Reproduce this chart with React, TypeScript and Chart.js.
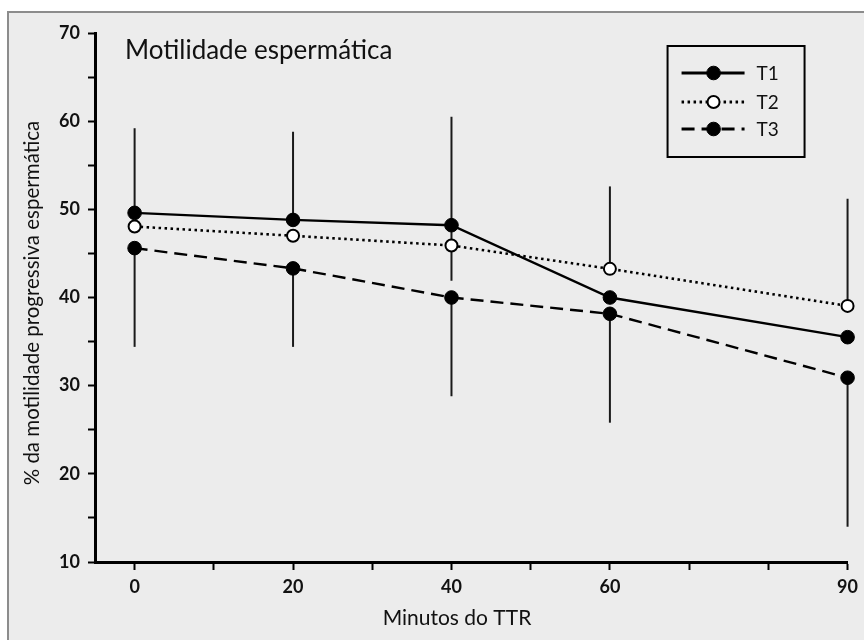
import React, { useEffect, useRef } from 'react';
import { Chart, registerables } from 'chart.js';

Chart.register(...registerables);

// ---- data ----
const minutes = [0, 20, 40, 60, 90];
const t1Values = [49.6, 48.8, 48.2, 40.0, 35.5];
const t2Values = [48.05, 47.0, 45.9, 43.25, 39.05];
const t3Values = [45.6, 43.3, 40.0, 38.15, 30.9];
const t1Upper = [59.2, 58.8, 60.5, null, null];
const t1Lower = [null, null, null, null, null];
const t2Upper = [null, null, 48.2, 52.6, 51.2];
const t2Lower = [null, null, 41.9, null, null];
const t3Upper = [null, null, null, null, null];
const t3Lower = [34.4, 34.4, 28.8, 25.8, 14.0];
const seriesNames = ['T1', 'T2', 'T3'];
const xTicks = [0, 10, 20, 30, 40, 50, 60, 70, 80, 90];
const xTickLabels = [0, 20, 40, 60, 90];
const yTickLabels = [10, 20, 30, 40, 50, 60, 70];
const chartTitle = 'Motilidade espermática';
const xAxisTitle = 'Minutos do TTR';
const yAxisTitle = '% da motilidade progressiva espermática';

const FONT = 'Lato, "Open Sans", sans-serif';
const INK = '#111111';

const toPoints = (vals: number[]) => minutes.map((m, i) => ({ x: m, y: vals[i] }));

const backgroundPlugin = {
  id: 'panelBackground',
  beforeDraw(chart: any) {
    const ctx = chart.ctx;
    const w = chart.width;
    const h = chart.height;
    ctx.save();
    ctx.fillStyle = '#ffffff';
    ctx.fillRect(0, 0, w, h);
    ctx.fillStyle = '#ececec';
    ctx.fillRect(8, 12, w - 8, h - 12);
    ctx.strokeStyle = '#8c8c8c';
    ctx.lineWidth = 2;
    ctx.beginPath();
    ctx.moveTo(8, h);
    ctx.lineTo(8, 12);
    ctx.lineTo(w, 12);
    ctx.stroke();
    ctx.restore();
  },
};

const errorBarPlugin = {
  id: 'errorBars',
  beforeDatasetsDraw(chart: any) {
    const ctx = chart.ctx;
    const xs = chart.scales.x;
    const ys = chart.scales.y;
    ctx.save();
    ctx.strokeStyle = '#1a1a1a';
    ctx.lineWidth = 2;
    ctx.setLineDash([]);
    chart.data.datasets.forEach((ds: any) => {
      const vals: number[] = ds.data.map((p: any) => p.y);
      minutes.forEach((m, i) => {
        const x = xs.getPixelForValue(m);
        const y0 = ys.getPixelForValue(vals[i]);
        [ds.errUpper[i], ds.errLower[i]].forEach((b: number | null) => {
          if (b === null || b === undefined) return;
          ctx.beginPath();
          ctx.moveTo(x, y0);
          ctx.lineTo(x, ys.getPixelForValue(b));
          ctx.stroke();
        });
      });
    });
    ctx.restore();
  },
};

const annotationPlugin = {
  id: 'annotations',
  afterDraw(chart: any) {
    const ctx = chart.ctx;
    const area = chart.chartArea;
    ctx.save();
    ctx.fillStyle = INK;

    // chart title inside plot
    ctx.font = `26px ${FONT}`;
    ctx.textAlign = 'left';
    ctx.textBaseline = 'alphabetic';
    ctx.fillText(chartTitle, area.left + 30, area.top + 26);

    // x axis title
    ctx.font = `21px ${FONT}`;
    ctx.textAlign = 'center';
    ctx.textBaseline = 'middle';
    ctx.fillText(xAxisTitle, 457, 618);

    // y axis title
    ctx.save();
    ctx.translate(32, 303);
    ctx.rotate(-Math.PI / 2);
    ctx.font = `20.5px ${FONT}`;
    ctx.textAlign = 'center';
    ctx.textBaseline = 'middle';
    ctx.fillText(yAxisTitle, 0, 0);
    ctx.restore();

    // legend
    const bx = area.right - 180;
    const by = area.top + 13;
    const bw = 137;
    const bh = 111;
    ctx.strokeStyle = '#000';
    ctx.lineWidth = 2;
    ctx.setLineDash([]);
    ctx.strokeRect(bx, by, bw, bh);
    const rows = [27, 56, 83];
    chart.data.datasets.forEach((ds: any, i: number) => {
      const y = by + rows[i];
      ctx.strokeStyle = '#000';
      ctx.lineWidth = 2.8;
      ctx.setLineDash(ds.borderDash || []);
      ctx.beginPath();
      ctx.moveTo(bx + 14, y);
      ctx.lineTo(bx + 77, y);
      ctx.stroke();
      ctx.setLineDash([]);
      ctx.beginPath();
      ctx.arc(bx + 46, y, ds.pointRadius, 0, Math.PI * 2);
      ctx.fillStyle = ds.pointBackgroundColor;
      ctx.fill();
      ctx.lineWidth = ds.pointBorderWidth;
      ctx.strokeStyle = '#000';
      ctx.stroke();
      ctx.fillStyle = INK;
      ctx.font = `19px ${FONT}`;
      ctx.textAlign = 'left';
      ctx.textBaseline = 'middle';
      ctx.fillText(seriesNames[i], bx + 89, y + 1);
    });
    ctx.restore();
  },
};

export default function App() {
  const ref = useRef<HTMLCanvasElement | null>(null);

  useEffect(() => {
    if (!ref.current) return;
    const common = {
      borderColor: '#000',
      borderWidth: 2.4,
      tension: 0,
      clip: false as any,
      pointBorderColor: '#000',
      pointHoverRadius: 6,
    };
    const chart = new Chart(ref.current, {
      type: 'line',
      data: {
        datasets: [
          {
            ...common,
            label: seriesNames[0],
            data: toPoints(t1Values),
            borderDash: [],
            pointRadius: 6.8,
            pointBackgroundColor: '#000',
            pointBorderWidth: 1,
            errUpper: t1Upper,
            errLower: t1Lower,
          } as any,
          {
            ...common,
            label: seriesNames[1],
            data: toPoints(t2Values),
            borderDash: [2.5, 3.5],
            borderWidth: 2.6,
            pointRadius: 6,
            pointBackgroundColor: '#fff',
            pointBorderWidth: 2,
            errUpper: t2Upper,
            errLower: t2Lower,
          } as any,
          {
            ...common,
            label: seriesNames[2],
            data: toPoints(t3Values),
            borderDash: [13, 7],
            pointRadius: 6.8,
            pointBackgroundColor: '#000',
            pointBorderWidth: 1,
            errUpper: t3Upper,
            errLower: t3Lower,
          } as any,
        ],
      },
      options: {
        animation: false,
        responsive: false,
        maintainAspectRatio: false,
        layout: { padding: { left: 0, top: 33, right: 15, bottom: 0 } },
        plugins: {
          legend: { display: false },
          tooltip: { enabled: false },
          title: { display: false },
        },
        scales: {
          x: {
            type: 'linear',
            min: -5,
            max: 90,
            afterBuildTicks: (scale: any) => {
              scale.ticks = xTicks.map((v) => ({ value: v }));
            },
            afterFit: (scale: any) => {
              scale.height = 78;
            },
            ticks: {
              autoSkip: false,
              maxRotation: 0,
              padding: 6,
              color: INK,
              font: { family: FONT, size: 18, weight: 'bold' },
              callback: (v: any) => (xTickLabels.includes(Number(v)) ? String(v) : ''),
            },
            grid: {
              drawOnChartArea: false,
              drawTicks: true,
              tickLength: 8,
              tickWidth: 2,
              tickColor: '#000',
            },
            border: { display: true, width: 3, color: '#000' },
          },
          y: {
            type: 'linear',
            min: 10,
            max: 70,
            ticks: {
              stepSize: 5,
              padding: 8,
              color: INK,
              font: { family: FONT, size: 18, weight: 'bold' },
              callback: (v: any) => (yTickLabels.includes(Number(v)) ? String(v) : ''),
            },
            afterFit: (scale: any) => {
              scale.width = 95;
            },
            grid: {
              drawOnChartArea: false,
              drawTicks: true,
              tickLength: 7,
              tickWidth: 2,
              tickColor: '#000',
            },
            border: { display: true, width: 3, color: '#000' },
          },
        },
      } as any,
      plugins: [backgroundPlugin, errorBarPlugin, annotationPlugin],
    });
    return () => chart.destroy();
  }, []);

  return (
    <div style={{ position: 'absolute', left: 0, top: 0, width: 864, height: 640 }}>
      <canvas ref={ref} width={864} height={640} style={{ display: 'block', width: 864, height: 640 }} />
    </div>
  );
}
